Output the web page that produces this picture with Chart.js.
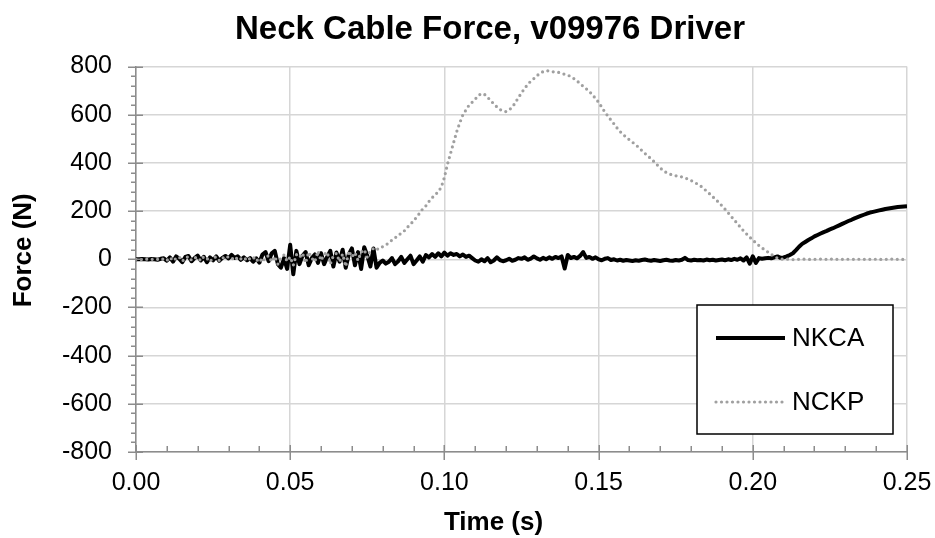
<!DOCTYPE html>
<html>
<head>
<meta charset="utf-8">
<title>Neck Cable Force, v09976 Driver</title>
<script src="https://cdn.jsdelivr.net/npm/chart.js@4.4.1/dist/chart.umd.min.js"></script>
<style>
  html, body { margin: 0; padding: 0; background: #fff; }
  #wrap { width: 935px; height: 538px; }
</style>
</head>
<body>
<div id="wrap"><canvas id="neckCableChart" width="935" height="538"></canvas></div>
<script>
// sampled every 1 ms, 0.000 s .. 0.250 s
const sampleStep = 0.001;
const sampleCount = 251;

// NKCA, N
const nkca = [
  0, 0, 1, 0, -1, 1, 0, -2, 2, 4,
  -6, 8, -10, 12, 3, -12, 10, 14, -8, 5,
  15, -5, 10, -12, 8, -4, 12, -6, 6, 14,
  4, 18, 6, 12, -2, 8, -4, 5, -10, 4,
  -14, 20, 30, -8, 25, 35, -20, -35, 5, -40,
  60, -62, 35, -20, 15, 30, -25, 5, 20, -15,
  25, -20, 10, 35, -30, 28, -10, 40, -35, 20,
  45, -25, 30, -40, 50, 15, -30, 45, -35, -15,
  -5, -18, -10, 5, -20, -8, 10, -15, 0, 15,
  -20, -5, 12, -10, 18, 8, 22, 10, 25, 12,
  28, 15, 25, 18, 22, 12, 20, 10, 15, 5,
  -5, -10, 0, -8, 5, -12, -5, 8, -3, -8,
  -4, 2, -6, -2, 5, 2, 8, -2, 3, 12,
  4, -2, 6, 0, 8, 2, 10, 5, 12, -38,
  18, 5, 10, 4, 14, 30, 6, 10, 2, 8,
  0, -4, 2, 5, -3, 0, -5, -2, -6, -3,
  -5, -7, -4, -6, -3, -1, -4, -6, -3, -5,
  -7, -4, -2, -5, -6, -3, -5, -2, 6, -3,
  -5, -2, -4, -3, -5, -1, -4, -2, -5, -3,
  -1, -4, 0, -3, 2, -2, 4, -5, 8, -18,
  12, -15, 5, 2, 4, 6, 4, 8, 12, 6,
  8, 12, 18, 25, 38, 52, 64, 72, 80, 87,
  95, 101, 107, 113, 118, 124, 129, 135, 141, 147,
  153, 159, 164, 170, 175, 180, 185, 190, 194, 197,
  200, 203, 206, 209, 211, 213, 215, 217, 218, 219,
  220
];

// NCKP, N
const nckp = [
  0, 2, -2, 1, 0, -1, 2, 0, -3, 3,
  -5, 8, -6, 4, 10, -8, 5, 12, -4, 6,
  8, -6, 12, 4, -10, 6, 10, -5, 8, 2,
  12, 6, -4, 10, 2, 8, -6, 4, 10, -8,
  5, -12, 8, 15, -10, 12, -20, 6, 18, -8,
  10, -25, 20, 8, 25, -15, 30, 5, -10, 35,
  -5, 20, 30, -20, 15, 25, -10, 22, -30, 35,
  10, 28, -5, 30, 40, 8, 35, 45, 38, 50,
  52, 60, 68, 80, 90, 96, 110, 118, 133, 145,
  160, 175, 192, 210, 222, 240, 255, 268, 280, 300,
  340, 395, 440, 485, 530, 567, 600, 620, 640, 652,
  665, 680, 688, 685, 672, 660, 645, 633, 622, 615,
  613, 620, 632, 650, 672, 690, 710, 725, 740, 750,
  762, 772, 779, 783, 782, 779, 777, 776, 772, 768,
  765, 758, 750, 740, 730, 718, 708, 697, 683, 668,
  652, 632, 612, 595, 578, 562, 545, 530, 518, 506,
  496, 486, 475, 465, 452, 440, 428, 418, 405, 392,
  379, 368, 360, 354, 350, 347, 344, 342, 338, 333,
  327, 320, 313, 305, 295, 283, 272, 260, 248, 236,
  222, 208, 193, 178, 163, 148, 133, 118, 105, 92,
  80, 68, 57, 47, 38, 29, 20, 12, 5, 1,
  0, 1, 0, -1, 0, 0, 1, 0, 0, -1,
  0, 0, 1, 0, 0, 2, 0, 0, -1, 0,
  1, 0, 0, 0, 1, -1, 0, 0, 0, 1,
  0, 0, -1, 0, 0, 1, 0, 0, 0, -1,
  0
];

const seriesNames = ['NKCA', 'NCKP'];
const chartTitle = 'Neck Cable Force, v09976 Driver';
const xTitle = 'Time (s)';
const yTitle = 'Force (N)';
const xTickStep = 0.05;
const xMinorStep = 0.01;
const yTickStep = 200;
const yMinorStep = 40;

const timeSec = [];
for (let i = 0; i < sampleCount; i++) timeSec.push(+(i * sampleStep).toFixed(3));

const fontFamily = "'Liberation Sans', Arial, Helvetica, sans-serif";
const axisGray = '#8c8c8c';

// major ticks cross the axis, minor ticks sit on one side (like Excel)
const axisTicks = {
  id: 'axisTicks',
  afterDraw(chart) {
    const { ctx, chartArea, scales } = chart;
    const x = scales.x, y = scales.y;
    ctx.save();
    ctx.strokeStyle = axisGray;
    ctx.lineWidth = 1.5;
    ctx.beginPath();
    const yCount = Math.round((y.max - y.min) / yMinorStep);
    for (let i = 0; i <= yCount; i++) {
      const v = y.min + i * yMinorStep;
      const py = Math.round(y.getPixelForValue(v)) + 0.25;
      const major = v % yTickStep === 0;
      ctx.moveTo(chartArea.left - (major ? 8 : 5), py);
      ctx.lineTo(chartArea.left + (major ? 7 : 0), py);
    }
    const xCount = Math.round((x.max - x.min) / xMinorStep);
    for (let i = 0; i <= xCount; i++) {
      const px = Math.round(x.getPixelForValue(x.min + i * xMinorStep)) + 0.25;
      const major = i % Math.round(xTickStep / xMinorStep) === 0;
      ctx.moveTo(px, chartArea.bottom - (major ? 7 : 6));
      ctx.lineTo(px, chartArea.bottom + (major ? 8 : 0));
    }
    ctx.stroke();
    ctx.restore();
  }
};

// axis titles sit a bit off the plot centre in the original (Excel placement)
const axisTitles = {
  id: 'axisTitles',
  afterDraw(chart) {
    const { ctx, chartArea } = chart;
    ctx.save();
    ctx.font = 'bold 26px ' + fontFamily;
    ctx.fillStyle = '#000';
    ctx.textAlign = 'center';
    ctx.textBaseline = 'middle';
    ctx.fillText(xTitle, (chartArea.left + chartArea.right) / 2 - 28, chart.height - 15);
    ctx.translate(24, (chartArea.top + chartArea.bottom) / 2 - 9);
    ctx.rotate(-Math.PI / 2);
    ctx.fillText(yTitle, 0, 0);
    ctx.restore();
  }
};

// boxed legend inside the plot, bottom right
const legendBox = {
  id: 'legendBox',
  afterDraw(chart) {
    const { ctx, chartArea } = chart;
    const w = 196, h = 129;
    const left = chartArea.right - 14 - w;
    const top = chartArea.bottom - 18 - h;
    ctx.save();
    ctx.fillStyle = '#fff';
    ctx.fillRect(left, top, w, h);
    ctx.strokeStyle = '#000';
    ctx.lineWidth = 1.5;
    ctx.strokeRect(left, top, w, h);
    ctx.font = '26px ' + fontFamily;
    ctx.textBaseline = 'middle';
    ctx.fillStyle = '#000';
    chart.data.datasets.forEach((ds, i) => {
      const cy = top + 33 + i * 64;
      ctx.save();
      ctx.strokeStyle = ds.borderColor;
      ctx.lineWidth = ds.borderWidth;
      ctx.lineCap = ds.borderCapStyle || 'butt';
      ctx.setLineDash(ds.borderDash || []);
      ctx.beginPath();
      ctx.moveTo(left + 19, cy);
      ctx.lineTo(left + 88, cy);
      ctx.stroke();
      ctx.restore();
      ctx.fillText(ds.label, left + 95, cy + 1);
    });
    ctx.restore();
  }
};

const ctx = document.getElementById('neckCableChart').getContext('2d');
new Chart(ctx, {
  type: 'line',
  data: {
    labels: timeSec,
    datasets: [
      {
        label: seriesNames[0],
        data: nkca,
        borderColor: '#000000',
        borderWidth: 4,
        borderJoinStyle: 'round',
        pointRadius: 0,
        tension: 0,
        order: 2
      },
      {
        label: seriesNames[1],
        data: nckp,
        borderColor: '#a0a0a0',
        borderWidth: 3.2,
        borderDash: [0, 5.5],
        borderCapStyle: 'round',
        pointRadius: 0,
        tension: 0,
        order: 1
      }
    ]
  },
  options: {
    responsive: false,
    animation: false,
    devicePixelRatio: 1,
    // left padding only shifts the title centre; the y axis width is fixed below
    layout: { padding: { left: 45, right: 0, top: 0, bottom: 0 } },
    plugins: {
      legend: { display: false },
      tooltip: { enabled: false },
      title: {
        display: true,
        text: chartTitle,
        color: '#000',
        font: { family: fontFamily, size: 33, weight: 'bold' },
        padding: { top: 10, bottom: 17 }
      }
    },
    scales: {
      x: {
        type: 'linear',
        min: 0,
        max: 0.25,
        afterFit: (scale) => {
          scale.height = 86;
          scale.paddingRight = 28;
        },
        ticks: {
          stepSize: xTickStep,
          padding: 16,
          color: '#000',
          font: { family: fontFamily, size: 25 },
          maxRotation: 0,
          callback: (v) => v.toFixed(2)
        },
        grid: { color: '#d6d6d6', lineWidth: 1.5, drawTicks: false },
        border: { color: axisGray, width: 1.5 }
      },
      y: {
        min: -800,
        max: 800,
        afterFit: (scale) => { scale.width = 91; },
        ticks: {
          stepSize: yTickStep,
          padding: 24,
          color: '#000',
          font: { family: fontFamily, size: 25 }
        },
        grid: { color: '#d6d6d6', lineWidth: 1.5, drawTicks: false },
        border: { color: axisGray, width: 1.5 }
      }
    }
  },
  plugins: [axisTicks, axisTitles, legendBox]
});
</script>
</body>
</html>
